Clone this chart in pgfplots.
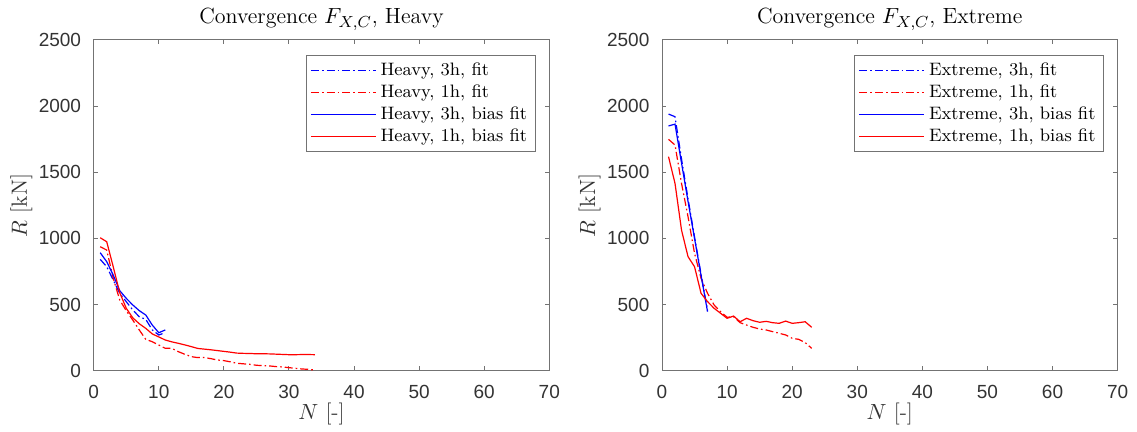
\documentclass[border=0pt]{standalone}
\usepackage{fontspec}
\usepackage{pgfplots}
\pgfplotsset{compat=1.18}
\newfontfamily\ticksf{Liberation Sans}

\definecolor{axgray}{gray}{0.45}
\definecolor{lblgray}{gray}{0.2}

\pgfplotsset{
  convstyle/.style={
    scale only axis,
    width=227.8pt, height=165.35pt,
    xmin=0, xmax=70, ymin=0, ymax=2500,
    xtick={0,10,...,70}, ytick={0,500,...,2500},
    axis line style={axgray, line width=0.5pt},
    tick style={axgray, line width=0.5pt},
    major tick length=2.2pt,
    tick align=inside,
    /pgf/number format/assume math mode=true,
    /pgf/number format/1000 sep={},
    tick label style={font=\ticksf\fontsize{9.5}{11}\selectfont, text=lblgray},
    xticklabel style={yshift=-3.5pt},
    yticklabel style={xshift=-2.8pt},
    title style={at={(axis description cs:0.5,1.0121)}, anchor=base,
      font=\fontsize{11}{13}\selectfont, inner sep=0pt},
    xlabel style={at={(axis description cs:0.5,-0.1482)}, anchor=base,
      font=\fontsize{11}{13}\selectfont, text=lblgray, inner sep=0pt},
    ylabel style={at={(axis description cs:-0.1466,0.5)}, anchor=base, rotate=0,
      font=\fontsize{11}{13}\selectfont, text=lblgray, inner sep=0pt},
    xlabel={$N$ [-]},
    ylabel={$R$ [kN]},
    legend cell align=left,
    legend image code/.code={\draw[#1] (0pt,0pt) -- (32.5pt,0pt);},
    legend style={at={(axis description cs:0.9701,0.9546)}, anchor=north east,
      draw=axgray, line width=0.5pt, fill=white,
      font=\fontsize{9}{10}\selectfont,
      inner xsep=2pt, inner ysep=2pt, row sep=0pt,
      nodes={inner ysep=1.6pt}},
  },
  fitline/.style={line width=0.6pt,
    dash pattern=on 4pt off 1.5pt on 0.8pt off 1.5pt},
  biasline/.style={line width=0.6pt, solid},
}

\begin{document}
\begin{tikzpicture}
\useasboundingbox (0,0) rectangle (568.5pt,216pt);

% left panel
\begin{axis}[convstyle, at={(46.85pt,30.65pt)}, anchor=south west,
  title={Convergence $F_{X,C}$, Heavy}]
  \addplot[fitline, blue] coordinates {
    (1,842) (2,786) (3,686) (4,585) (5,522) (6,459) (7,408) (8,388)
    (9,308) (10,270) (11,287)
  };
  \addplot[fitline, red] coordinates {
    (1,937) (2,912) (3,700) (4,534) (5,454) (6,383) (7,308) (8,237)
    (9,219) (10,194) (11,169) (12,169) (13,144) (14,124) (15,106) (16,99)
    (17,99) (18,91) (19,81) (20,76) (21,67) (22,56) (23,52) (24,48)
    (25,41) (26,38) (27,36) (28,31) (29,28) (30,23) (31,18) (32,13)
    (33,10) (34,5)
  };
  \addplot[biasline, blue] coordinates {
    (1,892) (2,824) (3,723) (4,605) (5,547) (6,497) (7,454) (8,421)
    (9,345) (10,287) (11,308)
  };
  \addplot[biasline, red] coordinates {
    (1,1005) (2,975) (3,786) (4,590) (5,472) (6,400) (7,355) (8,320)
    (9,278) (10,255) (11,232) (12,218) (13,207) (14,195) (15,182) (16,168)
    (17,163) (18,158) (19,152) (20,146) (21,140) (22,133) (23,131) (24,130)
    (25,128) (26,128) (27,127) (28,125) (29,123) (30,121) (31,121) (32,122)
    (33,122) (34,121)
  };
  \legend{{Heavy, 3h, fit}, {Heavy, 1h, fit}, {Heavy, 3h, bias fit}, {Heavy, 1h, bias fit}}
\end{axis}

% right panel
\begin{axis}[convstyle, at={(331pt,30.65pt)}, anchor=south west,
  title={Convergence $F_{X,C}$, Extreme}]
  \addplot[fitline, blue] coordinates {
    (1,1940) (2,1920) (3,1600) (4,1300) (5,1010) (6,730) (7,455)
  };
  \addplot[fitline, red] coordinates {
    (1,1749) (2,1706) (3,1416) (4,1164) (5,887) (6,698) (7,585) (8,497)
    (9,446) (10,404) (11,408) (12,363) (13,345) (14,328) (15,315) (16,308)
    (17,295) (18,283) (19,270) (20,245) (21,237) (22,212) (23,169)
  };
  \addplot[biasline, blue] coordinates {
    (1,1850) (2,1864) (3,1570) (4,1280) (5,1000) (6,720) (7,446)
  };
  \addplot[biasline, red] coordinates {
    (1,1618) (2,1416) (3,1063) (4,862) (5,786) (6,585) (7,522) (8,472)
    (9,434) (10,396) (11,413) (12,370) (13,396) (14,378) (15,366) (16,373)
    (17,363) (18,358) (19,375) (20,358) (21,363) (22,370) (23,328)
  };
  \legend{{Extreme, 3h, fit}, {Extreme, 1h, fit}, {Extreme, 3h, bias fit}, {Extreme, 1h, bias fit}}
\end{axis}
\end{tikzpicture}
\end{document}
